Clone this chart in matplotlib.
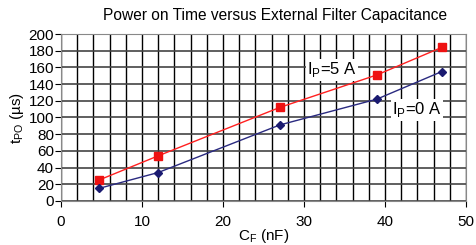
import matplotlib.pyplot as plt

plt.rcParams['font.family'] = ['Liberation Sans', 'DejaVu Sans']

cap_nf = [4.7, 12, 27, 39, 47]
tpo_5a = [25, 54, 112, 151, 184]
tpo_0a = [15, 34, 91, 122, 155]

fig = plt.figure(figsize=(4.76, 2.45), dpi=100)
ax = fig.add_axes([0.128, 0.180, 0.851, 0.681])

ax.plot(cap_nf, tpo_5a, color='#ff2020', lw=1, marker='s', ms=5.5,
        mfc='#ee1111', mec='#ee1111', zorder=3)
ax.plot(cap_nf, tpo_0a, color='#2a2a80', lw=1, marker='D', ms=4,
        mfc='#1a1a70', mec='#1a1a70', zorder=3)

ax.set_xlim(0, 50)
ax.set_ylim(0, 200)
ax.set_xticks(range(0, 51, 10))
ax.set_xticks(range(0, 51, 2), minor=True)
ax.set_yticks(range(0, 201, 20))
ax.grid(True, which='both', axis='x', color='black', lw=1)
ax.grid(True, which='major', axis='y', color='#444444', lw=1.2)
ax.tick_params(which='minor', length=0)
ax.tick_params(axis='x', length=4, labelsize=11, pad=6)
ax.tick_params(axis='y', length=4, labelsize=11, pad=1)
for s in ax.spines.values():
    s.set_color('#888888')
ax.set_axisbelow(True)

ax.text(30.4, 157, r'I$_\mathregular{P}$=5 A', fontsize=12, va='center',
        bbox=dict(fc='white', ec='none', pad=1), zorder=2)
ax.text(40.9, 109, r'I$_\mathregular{P}$=0 A', fontsize=12, va='center',
        bbox=dict(fc='white', ec='none', pad=1), zorder=2)

ax.set_xlabel(r'C$_\mathregular{F}$ (nF)', fontsize=11, labelpad=-1)
ax.set_ylabel(r't$_\mathregular{PO}$ (µs)', fontsize=11, labelpad=2)
fig.text(0.578, 0.935, 'Power on Time versus External Filter Capacitance',
         fontsize=11.2, ha='center', va='center')

fig.savefig('out.png', dpi=100)
